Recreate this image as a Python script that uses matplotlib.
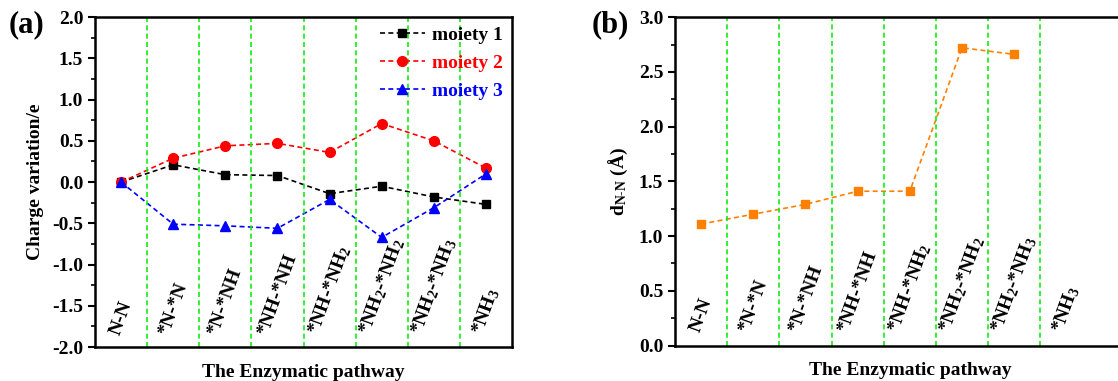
import matplotlib
matplotlib.use('Agg')
import matplotlib.pyplot as plt
from matplotlib.ticker import MultipleLocator

plt.rcParams['font.family'] = ['Liberation Serif', 'DejaVu Serif']
plt.rcParams['font.weight'] = 'bold'
plt.rcParams['mathtext.fontset'] = 'custom'
plt.rcParams['mathtext.rm'] = 'Liberation Serif:bold'
plt.rcParams['mathtext.it'] = 'Liberation Serif:bold'
plt.rcParams['mathtext.bf'] = 'Liberation Serif:bold'
plt.rcParams['mathtext.default'] = 'rm'
plt.rcParams['axes.unicode_minus'] = False

# pathway steps
steps = ['N-N', '*N-*N', '*N-*NH', '*NH-*NH', r'*NH-*NH$_2$',
         r'*NH$_2$-*NH$_2$', r'*NH$_2$-*NH$_3$', r'*NH$_3$']

# charge variation (e) per moiety
moiety1 = [0.0, 0.21, 0.09, 0.08, -0.14, -0.05, -0.18, -0.27]
moiety2 = [0.0, 0.29, 0.44, 0.47, 0.36, 0.71, 0.50, 0.17]
moiety3 = [0.0, -0.51, -0.53, -0.56, -0.21, -0.67, -0.31, 0.10]

# N-N distance (Angstrom), no value for the last step
d_nn = [1.11, 1.20, 1.29, 1.41, 1.41, 2.72, 2.66]

dash = (0, (3, 2))
fs = 14

fig = plt.figure(figsize=(11.18, 3.81), dpi=100)

# ---------- panel (a) ----------
ax1 = fig.add_axes([0.085, 0.089, 0.373, 0.866])
x = list(range(len(steps)))
l1, = ax1.plot(x, moiety1, color='black', ls=dash, lw=1.2, marker='s', ms=6, label='moiety 1')
l2, = ax1.plot(x, moiety2, color='red', ls=dash, lw=1.2, marker='o', ms=7, label='moiety 2')
l3, = ax1.plot(x, moiety3, color='blue', ls=dash, lw=1.2, marker='^', ms=7, label='moiety 3')
ax1.set_xlim(-0.5, 7.5)
ax1.set_ylim(-2.0, 2.0)
ax1.yaxis.set_major_locator(MultipleLocator(0.5))
ax1.yaxis.set_minor_locator(MultipleLocator(0.25))
ax1.set_ylabel('Charge variation/e', fontsize=fs, fontweight='bold', labelpad=6)
ax1.set_xlabel('The Enzymatic pathway', fontsize=fs, fontweight='bold', labelpad=12)
leg = ax1.legend(loc='upper right', frameon=False, fontsize=fs, handlelength=2.3,
                 borderaxespad=0.05, labelspacing=0.55, handletextpad=0.4)
for txt, ln in zip(leg.get_texts(), [l1, l2, l3]):
    txt.set_color(ln.get_color())
for i, s in enumerate(steps):
    ax1.text(i, -1.88, s, rotation=70, ha='center', va='bottom', fontsize=fs)
for g in range(len(steps) - 1):
    ax1.axvline(g + 0.5, color='#11ee11', ls=(0, (3, 2)), lw=1.2)

# ---------- panel (b) ----------
ax2 = fig.add_axes([0.6038, 0.093, 0.42, 0.862])
ax2.plot(range(len(d_nn)), d_nn, color='#ff8000', ls=dash, lw=1.2, marker='s', ms=6)
ax2.set_xlim(-0.5, 8.5)
ax2.set_ylim(0.0, 3.0)
ax2.yaxis.set_major_locator(MultipleLocator(0.5))
ax2.yaxis.set_minor_locator(MultipleLocator(0.25))
ax2.set_ylabel(r'd$_{\mathrm{N\text{-}N}}$ ($\mathrm{\AA}$)', fontsize=fs, fontweight='bold', labelpad=6)
ax2.set_xlabel('The Enzymatic pathway', fontsize=fs, fontweight='bold', labelpad=12)
for i, s in enumerate(steps):
    ax2.text(i, 0.1, s, rotation=70, ha='center', va='bottom', fontsize=fs)
for g in range(len(steps) - 1):
    ax2.axvline(g + 0.5, color='#11ee11', ls=(0, (3, 2)), lw=1.2)

fig.text(27 / 1118, 1 - 25 / 381, '(a)', fontsize=22, fontweight='bold', ha='center', va='center')
fig.text(610 / 1118, 1 - 25 / 381, '(b)', fontsize=22, fontweight='bold', ha='center', va='center')

for ax in (ax1, ax2):
    ax.set_xticks([])
    for sp in ax.spines.values():
        sp.set_linewidth(1.8)
    ax.tick_params(axis='y', which='major', direction='out', length=5, width=1.5,
                   labelsize=fs)
    ax.tick_params(axis='y', which='minor', direction='out', length=3, width=1.2)
    for t in ax.get_yticklabels():
        t.set_fontweight('bold')

fig.savefig('out.png', dpi=100)
